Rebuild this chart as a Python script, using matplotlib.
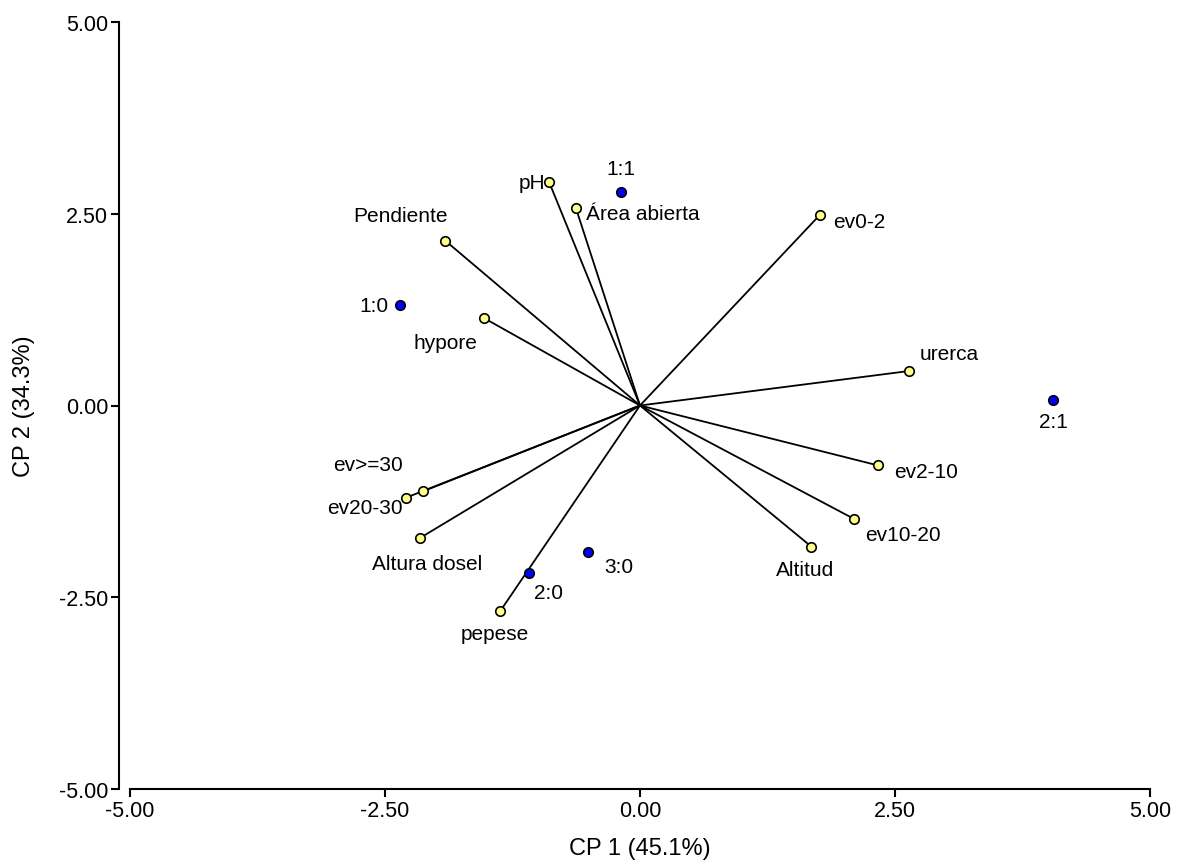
import matplotlib
matplotlib.use("Agg")
import matplotlib.pyplot as plt
from matplotlib.ticker import FormatStrFormatter

plt.rcParams['font.family'] = ['Liberation Sans', 'DejaVu Sans']

# Variables (vectors)
var_names = ["pH", "Área abierta", "Pendiente", "hypore", "ev0-2", "urerca",
             "ev2-10", "ev10-20", "Altitud", "ev>=30", "ev20-30",
             "Altura dosel", "pepese"]
var_x = [-0.89, -0.63, -1.91, -1.53, 1.76, 2.64, 2.33, 2.10, 1.68, -2.13, -2.29, -2.16, -1.37]
var_y = [2.91, 2.58, 2.15, 1.14, 2.48, 0.45, -0.78, -1.48, -1.84, -1.12, -1.20, -1.73, -2.68]

# Observations (group points)
obs_names = ["1:1", "1:0", "2:1", "2:0", "3:0"]
obs_x = [-0.19, -2.35, 4.05, -1.09, -0.51]
obs_y = [2.79, 1.31, 0.07, -2.19, -1.91]

ticks = [-5.0, -2.5, 0.0, 2.5, 5.0]

# label offsets in pixels (dx, dy, ha)
var_off = {
    "pH": (-4, 0, 'right'),
    "Área abierta": (10, -6, 'left'),
    "Pendiente": (-45, 25, 'center'),
    "hypore": (-39, -24, 'center'),
    "ev0-2": (14, -6, 'left'),
    "urerca": (10, 17, 'left'),
    "ev2-10": (16, -6, 'left'),
    "ev10-20": (11, -15, 'left'),
    "Altitud": (-6, -23, 'center'),
    "ev>=30": (-55, 27, 'center'),
    "ev20-30": (-4, -10, 'right'),
    "Altura dosel": (7, -25, 'center'),
    "pepese": (-5, -22, 'center'),
}
obs_off = {
    "1:1": (0, 23, 'center'),
    "1:0": (-12, 0, 'right'),
    "2:1": (0, -21, 'center'),
    "2:0": (5, -19, 'left'),
    "3:0": (16, -15, 'left'),
}

fig = plt.figure(figsize=(11.81, 8.62), dpi=100)
ax = fig.add_axes([130/1181, 72/862, 1020/1181, 767/862])

px = 72/100.0  # points per pixel
for n, x, y in zip(var_names, var_x, var_y):
    ax.plot([0, x], [0, y], color='black', lw=1.3, zorder=2, solid_capstyle='butt')
ax.scatter(var_x, var_y, s=(9.5*px)**2, facecolor='#FFFF8C', edgecolor='black',
           linewidths=1.2, zorder=3)
ax.scatter(obs_x, obs_y, s=(9.5*px)**2, facecolor='#0000FF', edgecolor='black',
           linewidths=1.2, zorder=3)

for n, x, y in zip(var_names, var_x, var_y):
    dx, dy, ha = var_off[n]
    ax.annotate(n, (x, y), xytext=(dx*px, dy*px), textcoords='offset points',
                ha=ha, va='center', fontsize=15)
for n, x, y in zip(obs_names, obs_x, obs_y):
    dx, dy, ha = obs_off[n]
    ax.annotate(n, (x, y), xytext=(dx*px, dy*px), textcoords='offset points',
                ha=ha, va='center', fontsize=15)

ax.set_xlim(-5, 5)
ax.set_ylim(-5, 5)
ax.set_xticks(ticks)
ax.set_yticks(ticks)
ax.xaxis.set_major_formatter(FormatStrFormatter('%.2f'))
ax.yaxis.set_major_formatter(FormatStrFormatter('%.2f'))
for s in ['top', 'right']:
    ax.spines[s].set_visible(False)
ax.spines['left'].set_position(('outward', 11*px))
ax.spines['left'].set_linewidth(1.5)
ax.spines['bottom'].set_linewidth(1.5)
ax.tick_params(axis='both', direction='out', length=8*px, width=1.5, labelsize=15.5, pad=2)
ax.set_xlabel("CP 1 (45.1%)", fontsize=17, labelpad=12)
ax.set_ylabel("CP 2 (34.3%)", fontsize=17, labelpad=17)

fig.savefig("out.png", dpi=100)
